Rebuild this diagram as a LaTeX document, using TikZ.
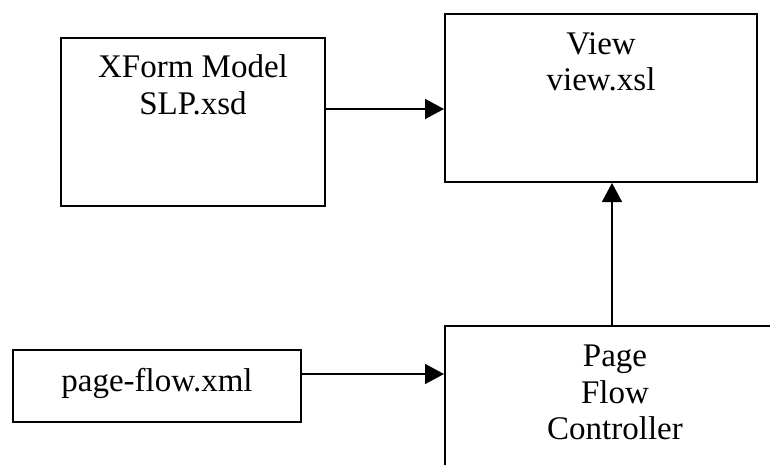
\documentclass[tikz,border=0pt]{standalone}
\usepackage{fontspec}
\setmainfont{Liberation Serif}
\usetikzlibrary{arrows.meta}
\begin{document}
\begin{tikzpicture}[x=1pt,y=-1pt,
  box/.style={draw,line width=2pt,rectangle,inner sep=0pt},
  lbl/.style={anchor=base,inner sep=0pt,font=\fontsize{33}{37}\selectfont},
  arr/.style={line width=1.5pt,-{Triangle[length=19pt,width=20pt]}}]
\useasboundingbox (0,0) rectangle (770,465);
\clip (0,0) rectangle (770,465);

% boxes
\node[box,minimum width=264pt,minimum height=168pt] (xform) at (193,122) {};
\node[box,minimum width=312pt,minimum height=168pt] (view) at (601,98) {};
\node[box,minimum width=288pt,minimum height=72pt] (pageflow) at (157,386) {};
\node[box,minimum width=340pt,minimum height=174pt] (ctrl) at (615,413) {};

% labels
\node[lbl] (xformA) at (193,78) {XForm Model};
\node[lbl] (xformB) at (193,115) {SLP.xsd};
\node[lbl] (viewA) at (601,55) {View};
\node[lbl] (viewB) at (601,91) {view.xsl};
\node[lbl] (pfA) at (157,391) {page-flow.xml};
\node[lbl] (ctrlA) at (615,366) {Page};
\node[lbl] (ctrlB) at (615,403) {Flow};
\node[lbl] (ctrlC) at (615,439) {Controller};

% connectors
\draw[arr] ([yshift=-72pt]xform.north east) -- ([yshift=-72pt]xform.north east -| view.west);
\draw[arr] ([xshift=168pt]ctrl.north west) -- ([xshift=168pt]ctrl.north west |- view.south);
\draw[arr] ([yshift=12pt]pageflow.east) -- ([yshift=12pt]pageflow.east -| ctrl.west);
\end{tikzpicture}
\end{document}
